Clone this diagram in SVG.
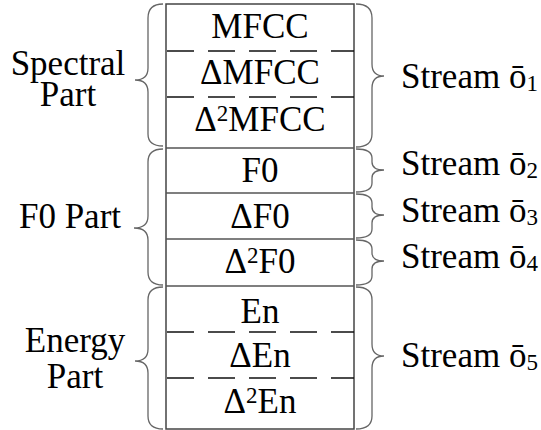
<svg xmlns="http://www.w3.org/2000/svg" width="541" height="430" viewBox="0 0 541 430">
<style>
text{font-family:"Liberation Serif","Times New Roman",serif;font-size:35px;fill:#000}
.c{text-anchor:middle}
.box{fill:#fff;stroke:#444;stroke-width:1.5}
.sep{stroke:#555;stroke-width:1.5}
.dash{stroke:#111;stroke-width:1.6;stroke-dasharray:27 14}
.brace{fill:none;stroke:#666;stroke-width:1.3}
</style>
<g id="table">
<rect class="box" x="166" y="4" width="188" height="425"/>
<line class="dash" x1="167" y1="51" x2="354" y2="51"/>
<line class="dash" x1="167" y1="97" x2="354" y2="97"/>
<line class="sep" x1="166" y1="148" x2="354" y2="148"/>
<line class="sep" x1="166" y1="193" x2="354" y2="193"/>
<line class="sep" x1="166" y1="239" x2="354" y2="239"/>
<line class="sep" x1="166" y1="286" x2="354" y2="286"/>
<line class="dash" x1="167" y1="332" x2="354" y2="332"/>
<line class="dash" x1="167" y1="378" x2="354" y2="378"/>
</g>
<g id="cells">
<text class="c" x="260" y="38">MFCC</text>
<text class="c" x="260" y="84">ΔMFCC</text>
<text class="c" x="260" y="131">Δ<tspan font-size="23" dy="-10">2</tspan><tspan dy="10">MFCC</tspan></text>
<text class="c" x="260" y="182">F0</text>
<text class="c" x="260" y="228">ΔF0</text>
<text class="c" x="260" y="273">Δ<tspan font-size="23" dy="-10">2</tspan><tspan dy="10">F0</tspan></text>
<text class="c" x="260" y="323">En</text>
<text class="c" x="260" y="367">ΔEn</text>
<text class="c" x="260" y="413">Δ<tspan font-size="23" dy="-10">2</tspan><tspan dy="10">En</tspan></text>
</g>
<g id="spectral-part">
<text class="c" x="68" y="75">Spectral</text>
<text class="c" x="68" y="106">Part</text>
</g>
<g id="f0-part">
<text class="c" x="70" y="228">F0 Part</text>
</g>
<g id="energy-part">
<text class="c" x="75" y="352">Energy</text>
<text class="c" x="75" y="388">Part</text>
</g>
<g id="stream1"><text x="401" y="88">Stream ō<tspan font-size="23" dy="3">1</tspan></text></g>
<g id="stream2"><text x="401" y="175">Stream ō<tspan font-size="23" dy="3">2</tspan></text></g>
<g id="stream3"><text x="401" y="222">Stream ō<tspan font-size="23" dy="3">3</tspan></text></g>
<g id="stream4"><text x="401" y="268">Stream ō<tspan font-size="23" dy="3">4</tspan></text></g>
<g id="stream5"><text x="401" y="367">Stream ō<tspan font-size="23" dy="3">5</tspan></text></g>
<g id="connectors">
<path class="brace" d="M163,4 Q148,4 148,18 L148,68 Q148,80 135,80 Q148,80 148,92 L148,134 Q148,146 163,146"/>
<path class="brace" d="M163,149 Q148,149 148,162 L148,216 Q148,228 134,228 Q148,228 148,240 L148,272 Q148,285 163,285"/>
<path class="brace" d="M163,287 Q148,287 148,300 L148,349 Q148,361 135,361 Q148,361 148,373 L148,416 Q148,429 163,429"/>
<path class="brace" d="M356,4 Q372,4 372,18 L372,64 Q372,76 384,76 Q372,76 372,88 L372,134 Q372,147 356,147"/>
<path class="brace" d="M356,149 Q372,149 372,158 L372,162 Q372,170 384,170 Q372,170 372,178 L372,183 Q372,192 356,192"/>
<path class="brace" d="M356,194 Q372,194 372,203 L372,207 Q372,215 384,215 Q372,215 372,223 L372,229 Q372,238 356,238"/>
<path class="brace" d="M356,240 Q372,240 372,249 L372,253 Q372,261 384,261 Q372,261 372,269 L372,276 Q372,285 356,285"/>
<path class="brace" d="M356,287 Q372,287 372,300 L372,344 Q372,356 384,356 Q372,356 372,368 L372,416 Q372,429 356,429"/>
</g>
</svg>
